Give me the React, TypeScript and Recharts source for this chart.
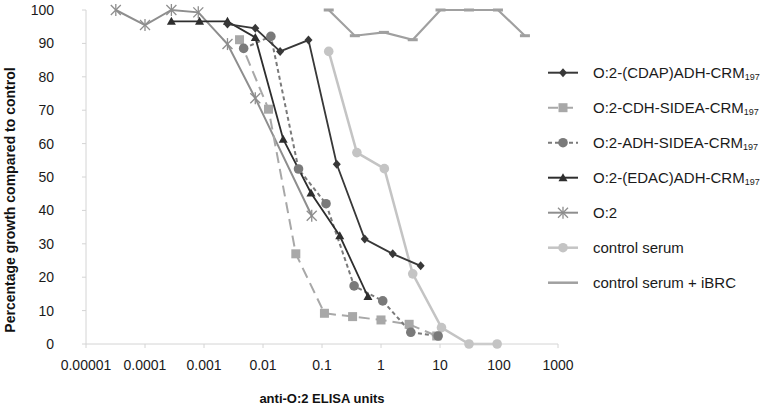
import React from 'react';
import { LineChart, Line, XAxis, YAxis } from 'recharts';

const xTicks = [0.00001, 0.0001, 0.001, 0.01, 0.1, 1, 10, 100, 1000];
const xTickLabels = ['0.00001', '0.0001', '0.001', '0.01', '0.1', '1', '10', '100', '1000'];
const yTicks = [0, 10, 20, 30, 40, 50, 60, 70, 80, 90, 100];

const cdapX = [0.0025, 0.0074, 0.0195, 0.059, 0.178, 0.53, 1.58, 4.7];
const cdapY = [95.8, 94.5, 87.6, 91, 53.8, 31.4, 27, 23.4];

const cdhX = [0.004, 0.0124, 0.036, 0.11, 0.33, 1.0, 3.0, 8.8];
const cdhY = [91.1, 70.3, 27, 9.2, 8.2, 7.2, 5.9, 2.4];

const adhX = [0.0047, 0.0136, 0.04, 0.117, 0.35, 1.07, 3.2, 9.3];
const adhY = [88.5, 92.1, 52.4, 42, 17.4, 12.9, 3.5, 2.4];

const edacX = [0.00028, 0.00084, 0.0025, 0.0074, 0.022, 0.065, 0.2, 0.6];
const edacY = [96.6, 96.6, 96.6, 91.8, 61.3, 45.2, 32.4, 14.2];

const o2X = [0.000032, 0.0001, 0.00028, 0.0008, 0.0025, 0.0074, 0.067];
const o2Y = [100, 95.5, 100, 99.3, 89.8, 73.6, 38.4];

const ctrlX = [0.13, 0.39, 1.14, 3.45, 10.6, 31, 93];
const ctrlY = [87.6, 57.3, 52.5, 21, 4.9, 0, 0];

const ibrcX = [0.13, 0.36, 1.12, 3.45, 10.2, 31, 96, 275];
const ibrcY = [100, 92.3, 93.3, 91.1, 100, 100, 100, 92.3];

const toPoints = (xs: number[], ys: number[]) => xs.map((x, i) => ({ x, y: ys[i] }));

const C_DARK = '#383838';
const C_EDAC = '#2e2e2e';
const C_CDH = '#a8a8a8';
const C_ADH = '#7a7a7a';
const C_O2 = '#8e8e8e';
const C_CTRL = '#c4c4c4';
const C_IBRC = '#a0a0a0';

const FONT = '"Liberation Sans", Arial, Helvetica, sans-serif';

type MP = { cx: number; cy: number; color: string };

const Diamond = ({ cx, cy, color }: MP) => (
  <polygon points={`${cx},${cy - 4.5} ${cx + 4},${cy} ${cx},${cy + 4.5} ${cx - 4},${cy}`} fill={color} />
);
const Square = ({ cx, cy, color }: MP) => (
  <rect x={cx - 4.5} y={cy - 4.5} width={9} height={9} fill={color} />
);
const Circle = ({ cx, cy, color }: MP) => <circle cx={cx} cy={cy} r={4.8} fill={color} />;
const Triangle = ({ cx, cy, color }: MP) => (
  <polygon points={`${cx},${cy - 4.5} ${cx + 4.5},${cy + 3.5} ${cx - 4.5},${cy + 3.5}`} fill={color} />
);
const Asterisk = ({ cx, cy, color }: MP) => (
  <g stroke={color} strokeWidth={1.3}>
    <line x1={cx - 5} y1={cy - 5} x2={cx + 5} y2={cy + 5} />
    <line x1={cx - 5} y1={cy + 5} x2={cx + 5} y2={cy - 5} />
    <line x1={cx} y1={cy - 6} x2={cx} y2={cy + 6} />
  </g>
);
const Dash = ({ cx, cy, color }: MP) => (
  <rect x={cx - 5} y={cy - 1.5} width={10} height={3} fill={color} />
);

const mk = (Comp: any, color: string, name: string) => (p: any) => {
  if (p.cx == null || p.cy == null) return <g key={`${name}-${p.index}`} />;
  return (
    <g key={`${name}-${p.index}`}>
      <Comp cx={p.cx} cy={p.cy} color={color} />
    </g>
  );
};

const fmtX = (v: number) => {
  const i = xTicks.findIndex((t) => Math.abs(Math.log10(t) - Math.log10(v)) < 1e-6);
  return i >= 0 ? xTickLabels[i] : String(v);
};

const YLabel = () => (
  <text
    x={10}
    y={200}
    transform="rotate(-90, 10, 200)"
    textAnchor="middle"
    dominantBaseline="central"
    fontFamily={FONT}
    fontWeight="bold"
    fontSize={14}
    fill="#111"
  >
    Percentage growth compared to control
  </text>
);

const legendItems = [
  { name: 'O:2-(CDAP)ADH-CRM', sub: '197', color: C_DARK, dash: undefined, marker: Diamond, w: 2 },
  { name: 'O:2-CDH-SIDEA-CRM', sub: '197', color: C_CDH, dash: '10 5', marker: Square, w: 2 },
  { name: 'O:2-ADH-SIDEA-CRM', sub: '197', color: C_ADH, dash: '4 3', marker: Circle, w: 2 },
  { name: 'O:2-(EDAC)ADH-CRM', sub: '197', color: C_EDAC, dash: undefined, marker: Triangle, w: 2 },
  { name: 'O:2', sub: '', color: C_O2, dash: undefined, marker: Asterisk, w: 2 },
  { name: 'control serum', sub: '', color: C_CTRL, dash: undefined, marker: Circle, w: 2.5 },
  { name: 'control serum + iBRC', sub: '', color: C_IBRC, dash: undefined, marker: null as any, w: 2.5 },
];

const LegendBox = () => (
  <svg
    width={224}
    height={260}
    style={{ position: 'absolute', left: 540, top: 40 }}
  >
    {legendItems.map((it, i) => {
      const cy = 32.7 + i * 35;
      const M = it.marker;
      return (
        <g key={it.name}>
          <line x1={8} y1={cy} x2={38} y2={cy} stroke={it.color} strokeWidth={it.w} strokeDasharray={it.dash} />
          {M ? <M cx={23} cy={cy} color={it.color} /> : null}
          <text x={53} y={cy} dominantBaseline="central" fontFamily={FONT} fontSize={15} fill="#1a1a1a">
            {it.name}
            {it.sub ? (
              <tspan fontSize={9} dy={4}>
                {it.sub}
              </tspan>
            ) : null}
          </text>
        </g>
      );
    })}
  </svg>
);

export default function App() {
  return (
    <div style={{ position: 'absolute', left: 0, top: 0, width: 764, height: 407, background: '#fff' }}>
      <LineChart width={764} height={407} margin={{ top: 10, right: 206, bottom: 0, left: 0 }}>
        <XAxis
          dataKey="x"
          type="number"
          scale="log"
          domain={[0.00001, 1000]}
          ticks={xTicks}
          interval={0}
          allowDataOverflow
          tickFormatter={fmtX}
          height={63}
          tickSize={4}
          tickMargin={12}
          stroke="#d4d4d4"
          tick={{ fill: '#1a1a1a', fontSize: 14, fontFamily: FONT }}
          label={{
            value: 'anti-O:2 ELISA units',
            position: 'insideBottom',
            offset: 4,
            fontFamily: FONT,
            fontWeight: 'bold',
            fontSize: 13,
            fill: '#111',
          }}
        />
        <YAxis
          dataKey="y"
          type="number"
          domain={[0, 100]}
          ticks={yTicks}
          interval={0}
          width={86}
          tickSize={4}
          tickMargin={28}
          stroke="#d4d4d4"
          tick={{ fill: '#1a1a1a', fontSize: 14, fontFamily: FONT }}
          label={<YLabel />}
        />
        <Line
          data={toPoints(ibrcX, ibrcY)}
          dataKey="y"
          stroke={C_IBRC}
          strokeWidth={2.2}
          dot={mk(Dash, C_IBRC, 'ibrc')}
          isAnimationActive={false}
        />
        <Line
          data={toPoints(ctrlX, ctrlY)}
          dataKey="y"
          stroke={C_CTRL}
          strokeWidth={2.5}
          dot={mk(Circle, C_CTRL, 'ctrl')}
          isAnimationActive={false}
        />
        <Line
          data={toPoints(o2X, o2Y)}
          dataKey="y"
          stroke={C_O2}
          strokeWidth={2}
          dot={mk(Asterisk, C_O2, 'o2')}
          isAnimationActive={false}
        />
        <Line
          data={toPoints(cdhX, cdhY)}
          dataKey="y"
          stroke={C_CDH}
          strokeWidth={2}
          strokeDasharray="11 6"
          dot={mk(Square, C_CDH, 'cdh')}
          isAnimationActive={false}
        />
        <Line
          data={toPoints(adhX, adhY)}
          dataKey="y"
          stroke={C_ADH}
          strokeWidth={2}
          strokeDasharray="4 3"
          dot={mk(Circle, C_ADH, 'adh')}
          isAnimationActive={false}
        />
        <Line
          data={toPoints(edacX, edacY)}
          dataKey="y"
          stroke={C_EDAC}
          strokeWidth={1.8}
          dot={mk(Triangle, C_EDAC, 'edac')}
          isAnimationActive={false}
        />
        <Line
          data={toPoints(cdapX, cdapY)}
          dataKey="y"
          stroke={C_DARK}
          strokeWidth={1.8}
          dot={mk(Diamond, C_DARK, 'cdap')}
          isAnimationActive={false}
        />
      </LineChart>
      <LegendBox />
    </div>
  );
}
